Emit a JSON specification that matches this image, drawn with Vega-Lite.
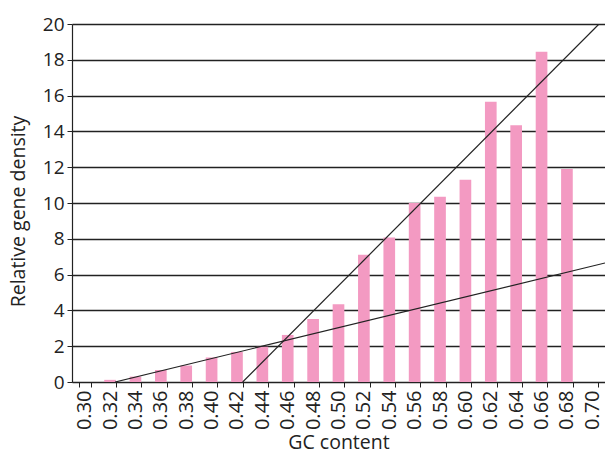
{
  "$schema": "https://vega.github.io/schema/vega-lite/v6.json",
  "width": 533,
  "height": 358,
  "autosize": {"type": "none"},
  "padding": {"left": 72, "top": 24, "right": 0, "bottom": 78},
  "background": "white",
  "config": {
    "view": {"stroke": null},
    "font": "Open Sans",
    "axis": {"labelColor": "#222", "titleColor": "#222", "labelFont": "Open Sans", "titleFont": "Open Sans", "titleFontWeight": "normal", "labelFontSize": 19, "titleFontSize": 19.5, "tickColor": "#222", "domainColor": "#222", "domainWidth": 1.2},
    "axisY": {"titlePadding": 14, "titleY": 187, "labelPadding": 3, "tickSize": 5, "grid": true, "gridColor": "#222", "gridWidth": 1.3, "labelOverlap": false},
    "axisX": {"labelAngle": -90, "labelFontSize": 20, "labelPadding": 3, "titlePadding": 4, "tickSize": 5, "tickWidth": 1, "tickBand": "extent", "grid": false, "labelOverlap": false}
  },
  "datasets": {
    "bars": [
      {"gc": "0.30", "density": 0},
      {"gc": "0.32", "density": 0.12},
      {"gc": "0.34", "density": 0.3},
      {"gc": "0.36", "density": 0.67},
      {"gc": "0.38", "density": 0.92},
      {"gc": "0.40", "density": 1.37},
      {"gc": "0.42", "density": 1.68},
      {"gc": "0.44", "density": 1.97},
      {"gc": "0.46", "density": 2.63},
      {"gc": "0.48", "density": 3.52},
      {"gc": "0.50", "density": 4.34},
      {"gc": "0.52", "density": 7.11},
      {"gc": "0.54", "density": 8.07},
      {"gc": "0.56", "density": 10.0},
      {"gc": "0.58", "density": 10.35},
      {"gc": "0.60", "density": 11.3},
      {"gc": "0.62", "density": 15.65},
      {"gc": "0.64", "density": 14.35},
      {"gc": "0.66", "density": 18.45},
      {"gc": "0.68", "density": 11.9},
      {"gc": "0.70", "density": 0}
    ],
    "fits": [
      {"fit": "steep", "x": 0.4245, "y": 0},
      {"fit": "steep", "x": 0.7053, "y": 20},
      {"fit": "shallow", "x": 0.3239, "y": 0},
      {"fit": "shallow", "x": 0.71, "y": 6.65}
    ]
  },
  "layer": [
    {
      "data": {"name": "bars"},
      "mark": {"type": "bar", "color": "#f39ac2"},
      "encoding": {
        "x": {
          "field": "gc", "type": "ordinal", "sort": null,
          "scale": {"paddingInner": 0.54, "paddingOuter": 0.27},
          "axis": {"title": "GC content"}
        },
        "y": {
          "field": "density", "type": "quantitative",
          "scale": {"domain": [0, 20], "nice": false},
          "axis": {"title": "Relative gene density", "values": [0, 2, 4, 6, 8, 10, 12, 14, 16, 18, 20]}
        }
      }
    },
    {
      "data": {"name": "fits"},
      "mark": {"type": "line", "color": "#222", "strokeWidth": 1.2, "clip": true},
      "encoding": {
        "x": {"field": "x", "type": "quantitative", "scale": {"domain": [0.29, 0.71], "nice": false, "zero": false}, "axis": null},
        "y": {"field": "y", "type": "quantitative", "scale": {"domain": [0, 20], "nice": false}, "axis": {"title": "Relative gene density", "values": [0, 2, 4, 6, 8, 10, 12, 14, 16, 18, 20]}},
        "detail": {"field": "fit"}
      }
    }
  ],
  "resolve": {"scale": {"x": "independent"}, "axis": {"x": "independent"}}
}
